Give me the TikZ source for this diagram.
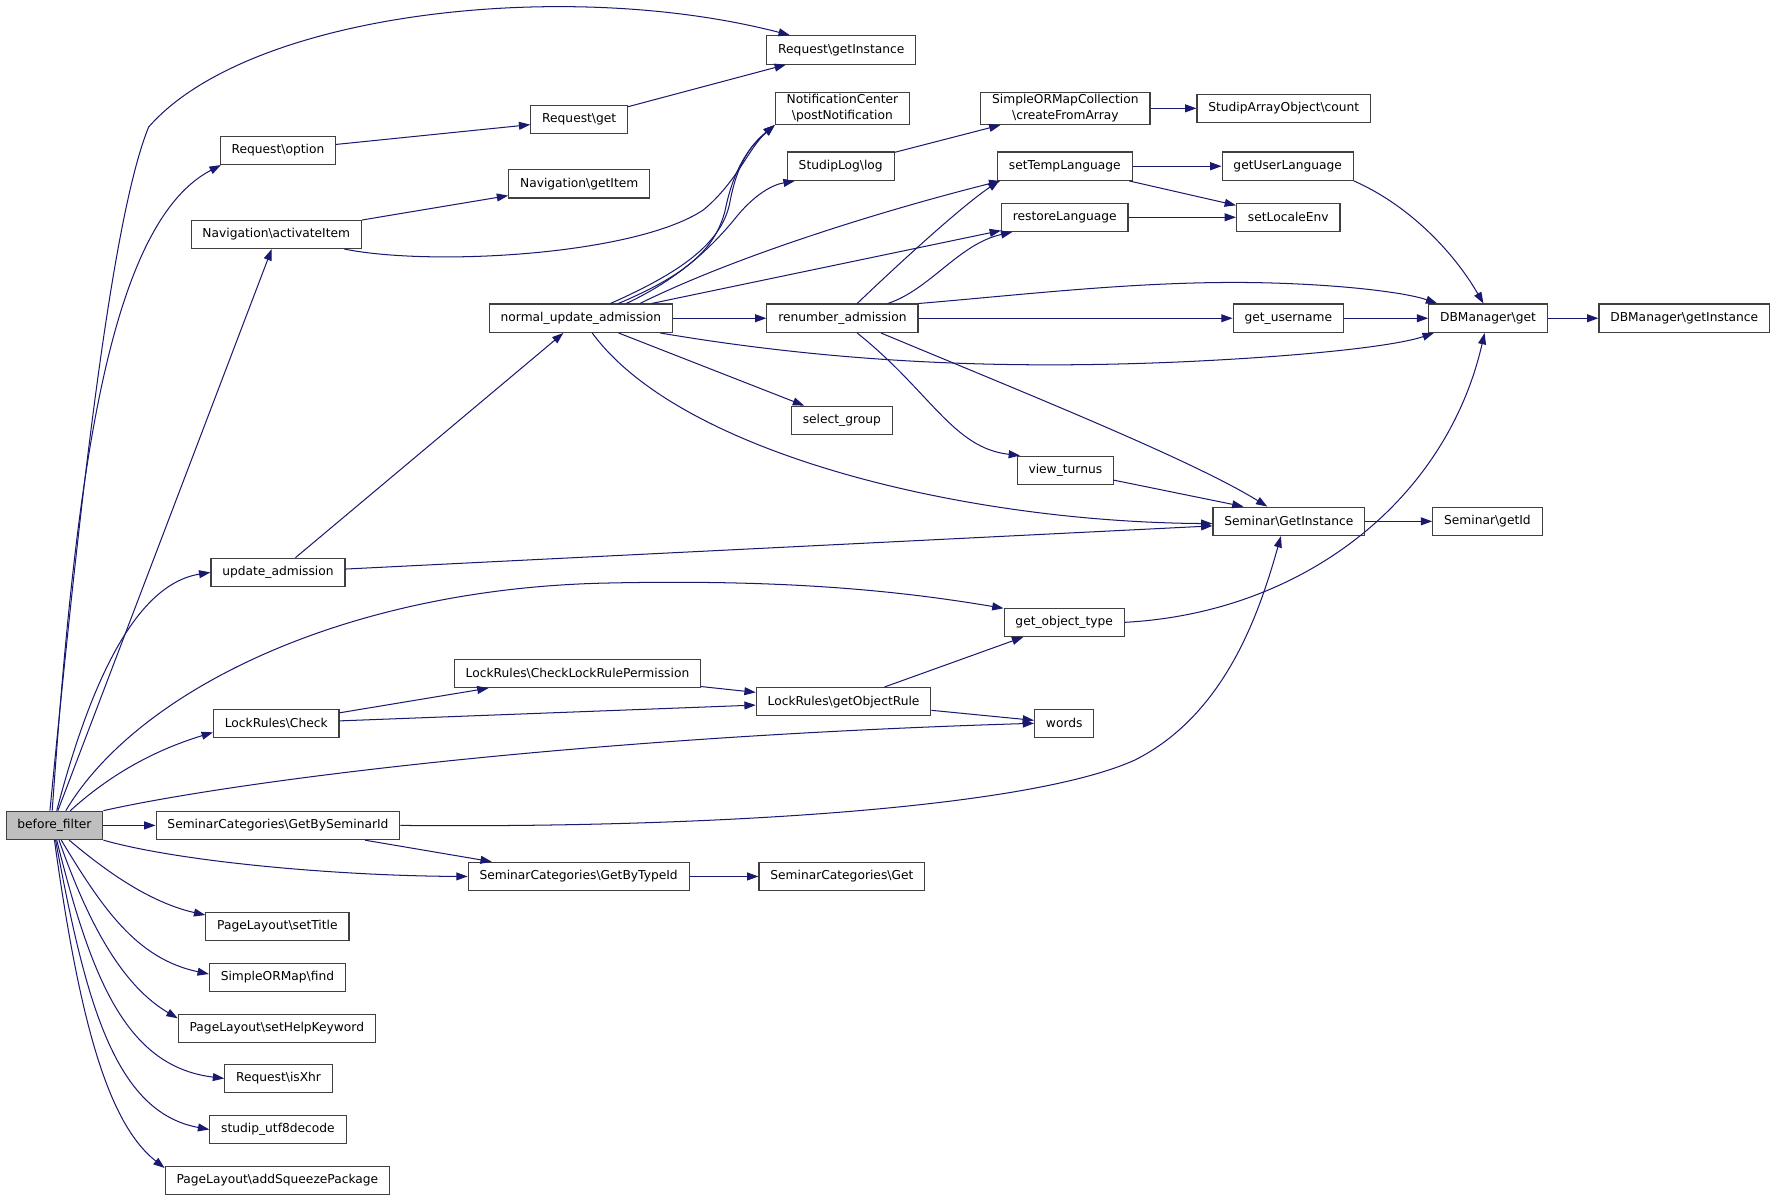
\documentclass[tikz,border=0pt]{standalone}
\usepackage{fontspec}
\setmainfont{DejaVu Sans}
\usetikzlibrary{arrows.meta}
\definecolor{edgec}{HTML}{191970}
\definecolor{boxc}{HTML}{404040}
\definecolor{rootc}{HTML}{BFBFBF}
\tikzset{
  fn/.style={draw=boxc, line width=1pt, fill=white, inner xsep=10pt, inner ysep=2pt,
    minimum height=25pt, font=\fontsize{10.8}{14}\selectfont, align=center},
  e/.style={draw=edgec, line width=0.9pt, -{Triangle[length=10pt,width=7pt]}},
}
\begin{document}
\begin{tikzpicture}[x=1pt,y=-1pt]
\useasboundingbox (0,0) rectangle (1568,1057);
% nodes
\node[fn, fill=rootc] (bf) at (48,727.5) {before\_filter};
\node[fn] (rgi) at (741.5,44) {Request\textbackslash getInstance};
\node[fn] (ropt) at (245,132.5) {Request\textbackslash option};
\node[fn] (rget) at (510.5,105.5) {Request\textbackslash get};
\node[fn] (pn) at (742.5,95.5) {NotificationCenter\\\textbackslash postNotification};
\node[fn] (ngi) at (510.5,162) {Navigation\textbackslash getItem};
\node[fn] (nai) at (243.5,206.5) {Navigation\textbackslash activateItem};
\node[fn] (smc) at (939,95.5) {SimpleORMapCollection\\\textbackslash createFromArray};
\node[fn] (sac) at (1131.5,95.5) {StudipArrayObject\textbackslash count};
\node[fn] (sll) at (741,146.5) {StudipLog\textbackslash log};
\node[fn] (stl) at (938.5,146.5) {setTempLanguage};
\node[fn] (gul) at (1135,146.5) {getUserLanguage};
\node[fn] (rl) at (938.5,191.5) {restoreLanguage};
\node[fn] (sle) at (1135.5,191.5) {setLocaleEnv};
\node[fn] (nua) at (512,280.5) {normal\_update\_admission};
\node[fn] (ra) at (742.5,280.5) {renumber\_admission};
\node[fn] (gu) at (1135.5,280.5) {get\_username};
\node[fn] (dbg) at (1311.5,280.5) {DBManager\textbackslash get};
\node[fn] (dbi) at (1484.5,280.5) {DBManager\textbackslash getInstance};
\node[fn] (sg) at (742,370.5) {select\_group};
\node[fn] (vt) at (939,414.5) {view\_turnus};
\node[fn] (sgi) at (1136,459.5) {Seminar\textbackslash GetInstance};
\node[fn] (sid) at (1311,459.5) {Seminar\textbackslash getId};
\node[fn] (ua) at (245,504.5) {update\_admission};
\node[fn] (got) at (938,548.5) {get\_object\_type};
\node[fn] (clrp) at (509,593.5) {LockRules\textbackslash CheckLockRulePermission};
\node[fn] (lrc) at (243.5,637.5) {LockRules\textbackslash Check};
\node[fn] (lgor) at (743.5,618.5) {LockRules\textbackslash getObjectRule};
\node[fn] (wd) at (938,637.5) {words};
\node[fn] (sgs) at (245,727.5) {SeminarCategories\textbackslash GetBySeminarId};
\node[fn] (sgt) at (510,772.5) {SeminarCategories\textbackslash GetByTypeId};
\node[fn] (sgg) at (742,772.5) {SeminarCategories\textbackslash Get};
\node[fn] (pst) at (244.5,816.5) {PageLayout\textbackslash setTitle};
\node[fn] (sof) at (244.5,861.5) {SimpleORMap\textbackslash find};
\node[fn] (phk) at (244,906.5) {PageLayout\textbackslash setHelpKeyword};
\node[fn] (rix) at (245.5,950.5) {Request\textbackslash isXhr};
\node[fn] (sud) at (245,995.5) {studip\_utf8decode};
\node[fn] (pas) at (244.5,1040.5) {PageLayout\textbackslash addSqueezePackage};
% edges from before_filter
\draw[e] ([xshift=-4]bf.north) .. controls (65,500) and (95,200) .. (131,112) .. controls (220,10) and (500,-20) .. (rgi.164);
\draw[e] ([xshift=-2]bf.north) .. controls (65,450) and (90,200) .. ([xshift=1]ropt.south west);
\draw[e] ([xshift=3]bf.north) -- ([xshift=-4]nai.south);
\draw[e] ([xshift=2]bf.north) .. controls (80,600) and (120,515) .. (ua.west);
\draw[e] ([xshift=10]bf.north) .. controls (120,610) and (300,520) .. (530,514) .. controls (700,510) and (800,522) .. (got.167);
\draw[e] ([xshift=14]bf.north) .. controls (100,680) and (140,660) .. ([yshift=-8]lrc.west);
\draw[e] (bf.north east) .. controls (200,690) and (500,650) .. (wd.west);
\draw[e] (bf) -- (sgs);
\draw[e] (bf.south east) .. controls (160,760) and (300,772) .. (sgt.west);
\draw[e] ([xshift=13]bf.south) .. controls (90,765) and (130,795) .. ([yshift=10]pst.west);
\draw[e] ([xshift=6]bf.south) .. controls (90,800) and (120,845) .. ([yshift=3]sof.west);
\draw[e] ([xshift=4]bf.south) .. controls (80,820) and (110,870) .. ([yshift=9]phk.west);
\draw[e] ([xshift=2]bf.south) .. controls (80,860) and (110,940) .. (rix.west);
\draw[e] ([xshift=1]bf.south) .. controls (75,880) and (100,980) .. (sud.west);
\draw[e] (bf.south) .. controls (70,900) and (95,990) .. ([yshift=11]pas.west);
% other edges
\draw[e] (ropt) -- (rget);
\draw[e] (rget) -- (rgi);
\draw[e] (nai) -- (ngi);
\draw[e] ([xshift=60]nai.south) .. controls (380,235) and (560,225) .. (620,185) .. controls (650,160) and (660,130) .. (pn.south west);
\draw[e] ([xshift=26]nua.north) .. controls (600,240) and (635,215) .. (643,180) .. controls (650,140) and (665,125) .. (pn.south west);
\draw[e] ([xshift=33]nua.north) .. controls (605,242) and (630,220) .. (639,186) .. controls (647,146) and (662,128) .. (pn.south west);
\draw[e] ([xshift=40]nua.north) .. controls (600,245) and (630,215) .. (650,190) .. controls (665,172) and (680,163) .. ([xshift=7]sll.south west);
\draw[e] ([xshift=52]nua.north) .. controls (650,225) and (780,185) .. ([xshift=3]stl.south west);
\draw[e] (nua) -- (rl);
\draw[e] (nua) -- (ra);
\draw[e] ([xshift=70]nua.south) .. controls (750,322) and (900,325) .. (1040,319) .. controls (1150,314) and (1230,305) .. ([xshift=5]dbg.south west);
\draw[e] (nua) -- (sg);
\draw[e] ([xshift=10]nua.south) .. controls (600,400) and (850,460) .. ([yshift=-2]sgi.west);
\draw[e] (ua) -- (nua);
\draw[e] (ua) -- ([yshift=-4]sgi.west);
\draw[e] ([xshift=13]ra.north) .. controls (800,225) and (850,180) .. ([xshift=2]stl.south west);
\draw[e] ([xshift=40]ra.north) .. controls (820,255) and (845,215) .. ([xshift=10]rl.south west);
\draw[e] (ra.north east) .. controls (900,260) and (1000,248) .. (1100,249) .. controls (1180,250) and (1240,258) .. ([xshift=8]dbg.north west);
\draw[e] (ra) -- (gu);
\draw[e] ([xshift=13]ra.south) .. controls (820,345) and (840,395) .. ([xshift=3]vt.north west);
\draw[e] ([xshift=34]ra.south) .. controls (900,345) and (1050,405) .. ([xshift=-19]sgi.north);
\draw[e] (vt) -- ([xshift=-40]sgi.north);
\draw[e] (sgi) -- (sid);
\draw[e] (stl) -- (gul);
\draw[e] (stl) -- (sle);
\draw[e] (rl) -- (sle);
\draw[e] (sll) -- (smc);
\draw[e] (smc) -- (sac);
\draw[e] (gul.south east) .. controls (1240,180) and (1280,220) .. ([xshift=-4]dbg.north);
\draw[e] (gu) -- (dbg);
\draw[e] (dbg) -- (dbi);
\draw[e] (got.east) .. controls (1150,540) and (1275,440) .. ([xshift=-3]dbg.south);
\draw[e] (lrc) -- (clrp);
\draw[e] (lrc) -- (lgor);
\draw[e] (clrp) -- (lgor);
\draw[e] (lgor) -- (got);
\draw[e] (lgor) -- (wd);
\draw[e] (sgs.east) .. controls (600,730) and (900,715) .. (1000,670) .. controls (1080,630) and (1110,540) .. ([xshift=-7]sgi.south);
\draw[e] (sgs) -- (sgt);
\draw[e] (sgt) -- (sgg);
\end{tikzpicture}
\end{document}
